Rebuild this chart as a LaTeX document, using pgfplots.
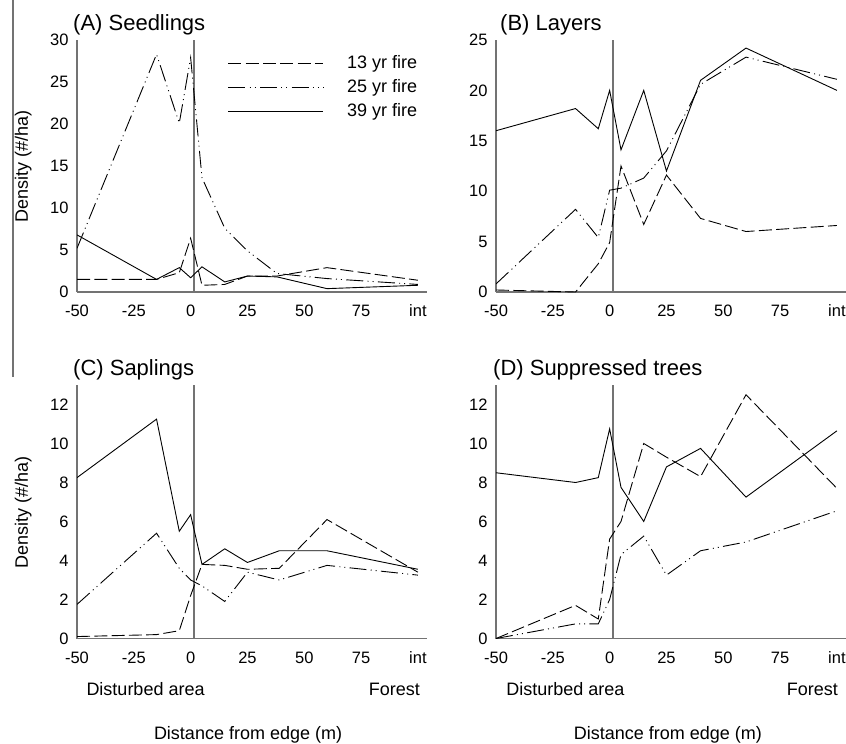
\documentclass[border=0pt]{standalone}
\usepackage{pgfplots}
\usepackage{pgfplotstable}
\pgfplotsset{compat=1.18}
\usepackage{fontspec}
\setmainfont{Liberation Sans}
\definecolor{axisgray}{gray}{0.45}

% columns: a = 13 yr fire, b = 25 yr fire, c = 39 yr fire
\pgfplotstableread{
x a b c
-50 1.5 5.2 6.8
-15 1.5 28.3 1.5
-5 2.3 20.1 2.9
0 6.4 27.9 1.7
5 0.8 13.6 3.0
15 0.9 7.6 1.2
25 1.9 4.9 1.9
38 1.9 2.2 1.8
60 2.9 1.6 0.4
100 1.4 0.9 0.8
}\dataA
\pgfplotstableread{
x a b c
-50 0.2 0.8 16.0
-15 0.0 8.2 18.2
-5 2.8 5.4 16.2
0 4.9 10.1 20.0
5 12.5 10.3 14.1
15 6.7 11.3 20.0
25 11.6 14.0 12.0
40 7.3 20.6 21.0
60 6.0 23.3 24.2
100 6.6 21.1 20.0
}\dataB
\pgfplotstableread{
x a b c
-50 0.1 1.75 8.25
-15 0.2 5.4 11.25
-5 0.4 3.6 5.5
0 2.2 3.0 6.35
5 3.8 2.7 3.8
15 3.75 1.9 4.6
25 3.55 3.4 3.9
39 3.6 3.0 4.5
60 6.1 3.75 4.5
100 3.4 3.25 3.55
}\dataC
\pgfplotstableread{
x a b c
-50 0.0 0.0 8.5
-15 1.7 0.75 8.0
-5 1.0 0.75 8.25
0 5.1 2.0 10.75
5 6.0 4.3 7.75
15 10.0 5.25 6.0
25 9.3 3.25 8.8
40 8.3 4.5 9.75
60 12.5 4.95 7.25
100 7.7 6.55 10.65
}\dataD

\pgfplotsset{
  panel/.style={
    scale only axis, width=350pt, xmin=-50, xmax=104, ymin=0,
    axis lines=left,
    axis line style={-, draw=axisgray, line width=1.3pt},
    xtick={-50,-25,0,25,50,75,100},
    xticklabels={-50,-25,0,25,50,75,int},
    major tick length=0pt,
    tick label style={font=\fontsize{16.5}{18}\selectfont},
    /pgf/number format/assume math mode=true,
    xticklabel style={anchor=north, text height=12pt, text depth=0pt, yshift=-9pt},
    yticklabel style={xshift=-5pt},
  },
  s13/.style={black, line width=0.9pt, dash pattern=on 13pt off 4.3pt},
  s25/.style={black, line width=0.9pt, dash pattern=on 17pt off 4.3pt on 1pt off 4pt on 1pt off 4.3pt},
  s39/.style={black, line width=0.9pt},
  vline/.style={axisgray, line width=1.3pt, forget plot},
}

\begin{document}
\begin{tikzpicture}
\useasboundingbox (0pt,0pt) rectangle (846pt,-744pt);
\draw[axisgray, line width=2pt] (13pt,0pt) -- (13pt,-377pt);

% (A)
\begin{axis}[panel, at={(77pt,-292pt)}, anchor=south west, height=252pt,
  ymax=30, ytick={0,5,10,15,20,25,30},
  legend style={draw=none, fill=none, at={(0.4314,0.8135)}, anchor=west,
    inner sep=0pt, outer sep=0pt, row sep=9.5pt, column sep=0pt,
    font=\fontsize{18}{20}\selectfont, nodes={inner sep=0pt}},
  legend cell align=left,
  legend image code/.code={\draw[#1] (0pt,0pt) -- (95pt,0pt); \path[draw=none,fill=none] (0pt,0pt) -- (118.7pt,0pt);}]
\addplot[vline] coordinates {(1.5,0) (1.5,30)};
\addplot[s13] table[x=x,y=a]{\dataA}; \addlegendentry{13 yr fire}
\addplot[s25] table[x=x,y=b]{\dataA}; \addlegendentry{25 yr fire}
\addplot[s39] table[x=x,y=c]{\dataA}; \addlegendentry{39 yr fire}
\end{axis}

% (B)
\begin{axis}[panel, at={(496pt,-292pt)}, anchor=south west, height=252pt,
  ymax=25, ytick={0,5,10,15,20,25}]
\addplot[vline] coordinates {(1.5,0) (1.5,25)};
\addplot[s13] table[x=x,y=a]{\dataB};
\addplot[s25] table[x=x,y=b]{\dataB};
\addplot[s39] table[x=x,y=c]{\dataB};
\end{axis}

% (C)
\begin{axis}[panel, at={(77pt,-638.5pt)}, anchor=south west, height=253.5pt,
  ymax=13, ytick={0,2,4,6,8,10,12}]
\addplot[vline] coordinates {(1.5,0) (1.5,13)};
\addplot[s13] table[x=x,y=a]{\dataC};
\addplot[s25] table[x=x,y=b]{\dataC};
\addplot[s39] table[x=x,y=c]{\dataC};
\end{axis}

% (D)
\begin{axis}[panel, at={(496pt,-638.5pt)}, anchor=south west, height=253.5pt,
  ymax=13, ytick={0,2,4,6,8,10,12}]
\addplot[vline] coordinates {(1.5,0) (1.5,13)};
\addplot[s13] table[x=x,y=a]{\dataD};
\addplot[s25] table[x=x,y=b]{\dataD};
\addplot[s39] table[x=x,y=c]{\dataD};
\end{axis}

\begin{scope}[every node/.style={inner sep=0pt, font=\fontsize{22}{24}\selectfont}]
\node[anchor=base west] at (73pt,-30.7pt) {(A) Seedlings};
\node[anchor=base west] at (500pt,-30.7pt) {(B) Layers};
\node[anchor=base west] at (73pt,-375.7pt) {(C) Saplings};
\node[anchor=base west] at (493pt,-375.7pt) {(D) Suppressed trees};
\end{scope}
\begin{scope}[every node/.style={inner sep=0pt, font=\fontsize{18}{20}\selectfont}]
\node[rotate=90] at (23.3pt,-166pt) {Density (\#/ha)};
\node[rotate=90] at (23.3pt,-512pt) {Density (\#/ha)};
\node[anchor=base west] at (86.3pt,-695pt) {Disturbed area};
\node[anchor=base east] at (420pt,-695pt) {Forest};
\node[anchor=base west] at (506.2pt,-695pt) {Disturbed area};
\node[anchor=base east] at (838pt,-695pt) {Forest};
\node[anchor=base west] at (153.8pt,-739pt) {Distance from edge (m)};
\node[anchor=base west] at (573.7pt,-739pt) {Distance from edge (m)};
\end{scope}
\end{tikzpicture}
\end{document}
